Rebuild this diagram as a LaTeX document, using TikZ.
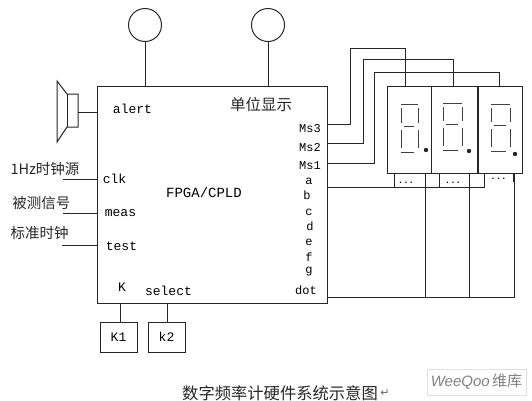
\documentclass[tikz,border=0pt]{standalone}
\usepackage{fontspec}
\setmainfont{Liberation Mono}
\newfontfamily\cjk{Noto Sans CJK SC}
\newfontfamily\wmfont{Liberation Sans}
\newfontfamily\symfont{DejaVu Sans}
\usepackage{xcolor}
\usetikzlibrary{arrows.meta, positioning}

\definecolor{inkline}{gray}{0.15}

\begin{document}
\begin{tikzpicture}[
    x=1pt, y=-1pt,
    line width=1pt,
    color=inkline,
    chip/.style={rectangle, draw=inkline, minimum width=230pt, minimum height=217pt, inner sep=0pt},
    lamp/.style={circle, draw=inkline, minimum size=33pt, inner sep=0pt},
    digit/.style={rectangle, draw=inkline, minimum width=44pt, minimum height=87pt, inner sep=0pt},
    keybox/.style={rectangle, draw=inkline, minimum width=37pt, minimum height=30pt, inner sep=0pt, text=black, font=\fontsize{13}{13}\selectfont},
    pin/.style={inner sep=0pt, text=black, font=\fontsize{13}{13}\selectfont},
    pinr/.style={pin, font=\fontsize{12}{12}\selectfont},
    dots/.style={inner sep=0pt, text=black, font=\bfseries\fontsize{9}{9}\selectfont},
    han/.style={inner sep=0pt, text=black!85, font=\cjk\fontsize{14.5}{14.5}\selectfont},
    seg/.style={line width=1pt, draw=black!75},
    bus/.style={line width=1pt}
]
\useasboundingbox (0,0) rectangle (532,400);

% main device
\node[chip] (fpga) at (212,194.5) {};
\node[pin, font=\fontsize{14}{14}\selectfont] (core) at (204,192) {FPGA/CPLD};

% lamps on top
\node[lamp] (lamp1) at (145,25) {};
\node[lamp] (lamp2) at (268,25) {};
\coordinate (t1) at (145,86);
\coordinate (t2) at (268,86);
\draw (lamp1) -- (t1);
\draw (lamp2) -- (t2);
\node[han, font=\cjk\fontsize{15.5}{15.5}\selectfont] (unit) at (261,105) {单位显示};

% speaker
\coordinate (sa) at (57,81);
\coordinate (sb) at (57,142);
\coordinate (sc) at (67,94);
\coordinate (sd) at (67,127);
\coordinate (se) at (78,94);
\coordinate (sf) at (78,127);
\coordinate (alertpin) at (97,112);
\coordinate (spk) at (78,112);
\draw (sa) -- (sc) -- (se) -- (sf) -- (sd) -- (sb) -- cycle;
\draw (sc) -- (sd);
\draw (spk) -- (alertpin);
\node[pin] (alert) at (132.5,109) {alert};

% left inputs
\node[han, anchor=west] (src) at (10,169) {1Hz时钟源};
\node[han, anchor=west] (sig) at (12,203) {被测信号};
\node[han, anchor=west] (ref) at (10,233) {标准时钟};
\node[pin] (clk) at (114.5,179) {clk};
\node[pin] (meas) at (120.5,213) {meas};
\node[pin] (test) at (121.5,246) {test};
\coordinate (c0) at (63,179);
\coordinate (c1) at (97,179);
\coordinate (m0) at (63,213);
\coordinate (m1) at (97,213);
\coordinate (e0) at (62,245);
\coordinate (e1) at (97,245);
\draw (c0) -- (c1);
\draw (m0) -- (m1);
\draw (e0) -- (e1);

% keys
\node[keybox] (k1) at (118.5,337) {K1};
\node[keybox] (k2) at (166.5,337) {k2};
\node[pin] (kk) at (122,287) {K};
\node[pin] (sel) at (168.5,291) {select};
\coordinate (k1t) at (120,303);
\coordinate (k2t) at (167,303);
\draw (k1t) -- (k1t |- k1.north);
\draw (k2t) -- (k2t |- k2.north);

% right pin names
\node[pinr] (ms3) at (310,129) {Ms3};
\node[pinr] (ms2) at (310,148) {Ms2};
\node[pinr] (ms1) at (310,166) {Ms1};
\foreach \n/\x/\y in {a/309/181, b/307/195, c/309/212, d/310/226, e/309/242, f/309/257, g/309/272} {
    \node[pinr] (p\n) at (\x,\y) {\n};
}
\node[pinr] (pdot) at (306,290) {dot};

% display digits
\node[digit] (d1) at (409,129.5) {};
\node[digit, minimum width=46pt] (d2) at (454,129.5) {};
\node[digit] (d3) at (500,129.5) {};

% seven segments
\foreach \x/\r/\t/\m/\b/\dx/\dy in {401/418/104/126/152/426/150, 443/462/103/124/150/469/151, 491/510/104/125/151/515/154} {
    \draw[seg] (\x,\t) -- (\r,\t);
    \draw[seg] (\x,\t+4) -- (\x,\m-3);
    \draw[seg] (\r,\t+4) -- (\r,\m-3);
    \draw[seg] (\x+3,\m) -- (\r-4,\m);
    \draw[seg] (\x,\m+4) -- (\x,\b-4);
    \draw[seg] (\r,\m+4) -- (\r,\b-4);
    \draw[seg] (\x,\b) -- (\r-4,\b);
    \fill[black!85, draw=none] (\dx,\dy) circle (2.2pt);
}

% digit select lines
\coordinate (o3) at (327,124);
\coordinate (o2) at (327,143);
\coordinate (o1) at (327,163);
\coordinate (i3) at (405,86);
\coordinate (i2) at (453,86);
\coordinate (i1) at (499,86);
\draw (o3) -| (350,48) -| (i3);
\draw (o2) -| (363,59) -| (i2);
\draw (o1) -| (374,72) -| (i1);

% segment bus
\coordinate (a0) at (327,187);
\coordinate (a3) at (484,173);
\coordinate (a1) at (394,173);
\coordinate (a2) at (439,173);
\draw[bus] (a0) -| (a3);
\draw[bus] (a1) -- (a1 |- a0);
\draw[bus] (a2) -- (a2 |- a0);
\node[dots] (dots1) at (406,183) {...};
\node[dots] (dots2) at (453,183) {...};
\node[dots] (dots3) at (498.5,179) {...};

% dot bus
\coordinate (b0) at (327,297);
\coordinate (b1) at (425,173);
\coordinate (b2) at (469,173);
\coordinate (b3) at (514,173);
\coordinate (b4) at (514,182);
\draw[bus] (b0) -| (b3);
\draw[bus] (b1) -- (b1 |- b0);
\draw[bus] (b2) -- (b2 |- b0);
\draw[line width=2pt] (b3) -- (b4);

% caption
\node[han, font=\cjk\fontsize{16.3}{16.3}\selectfont] (title) at (280,393) {数字频率计硬件系统示意图};
\node[inner sep=0pt, text=black!60, font=\symfont\fontsize{11}{11}\selectfont] (ret) at (385,393) {↵};
\node[rectangle, draw=black!12, minimum width=99pt, minimum height=26pt, inner sep=0pt, text=black!50, font=\wmfont\itshape\fontsize{15}{15}\selectfont] (mark) at (476.5,382) {WeeQoo\,{\cjk\upshape 维库}};
\end{tikzpicture}
\end{document}
